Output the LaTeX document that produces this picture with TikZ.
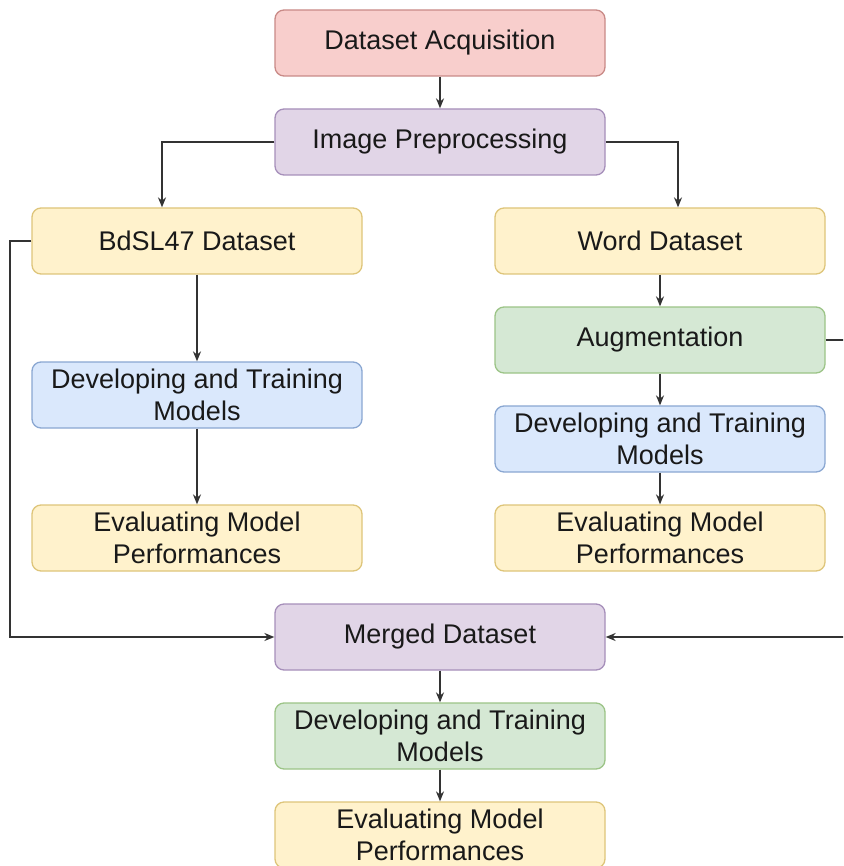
\documentclass[tikz,border=0pt]{standalone}
\usepackage{fontspec}
\setmainfont{Liberation Sans}
\usetikzlibrary{arrows.meta,calc}

\definecolor{redfill}{HTML}{F8CECC}\definecolor{redline}{HTML}{C98A87}
\definecolor{purfill}{HTML}{E1D5E7}\definecolor{purline}{HTML}{A68FBA}
\definecolor{yelfill}{HTML}{FFF2CC}\definecolor{yelline}{HTML}{DEC57A}
\definecolor{blufill}{HTML}{DAE8FC}\definecolor{bluline}{HTML}{8AA7D2}
\definecolor{grnfill}{HTML}{D5E8D4}\definecolor{grnline}{HTML}{9CC487}
\definecolor{wire}{HTML}{333333}

\tikzset{
  box/.style={draw, line width=1.3pt, rounded corners=9pt, minimum width=330pt,
    minimum height=66pt, inner sep=0pt, align=center, text=black!90,
    font=\fontsize{27}{32}\selectfont},
  redbox/.style={box, fill=redfill, draw=redline},
  purbox/.style={box, fill=purfill, draw=purline},
  yelbox/.style={box, fill=yelfill, draw=yelline},
  blubox/.style={box, fill=blufill, draw=bluline},
  grnbox/.style={box, fill=grnfill, draw=grnline},
  arr/.style={draw=wire, line width=1.3pt, -{Stealth[length=10pt,width=8pt]}},
}

\begin{document}
\begin{tikzpicture}[x=1pt,y=-1pt]
  \useasboundingbox (0,0) rectangle (843,866);
  \clip (0,0) rectangle (843,866);
  \fill[white] (0,0) rectangle (843,866);

  % top stage
  \node[redbox] (acq) at (440,43)  {Dataset Acquisition};
  \node[purbox] (pre) at (440,142) {Image Preprocessing};

  % left branch
  \node[yelbox] (bd)   at (197,241) {BdSL47 Dataset};
  \node[blubox] (ldev) at (197,395) {Developing and Training\\Models};
  \node[yelbox] (leva) at (197,538) {Evaluating Model\\Performances};

  % right branch
  \node[yelbox] (wd)   at (660,241) {Word Dataset};
  \node[grnbox] (aug)  at (660,340) {Augmentation};
  \node[blubox] (rdev) at (660,439) {Developing and Training\\Models};
  \node[yelbox] (reva) at (660,538) {Evaluating Model\\Performances};

  % merged stage
  \node[purbox] (mg)   at (440,637) {Merged Dataset};
  \node[grnbox] (mdev) at (440,736) {Developing and Training\\Models};
  \node[yelbox] (meva) at (440,835) {Evaluating Model\\Performances};

  % routing points for the side loops
  \coordinate (lx) at (10,0);
  \coordinate (rx) at (846,0);

  \draw[arr] (acq) -- (pre);
  \draw[arr] (pre.west) -| ([xshift=-35pt]bd.north);
  \draw[arr] (pre.east) -| ([xshift=18pt]wd.north);

  \draw[arr] (bd) -- (ldev);
  \draw[arr] (ldev) -- (leva);

  \draw[arr] (wd) -- (aug);
  \draw[arr] (aug) -- (rdev);
  \draw[arr] (rdev) -- (reva);

  \draw[arr] (bd.west) -- (bd.west -| lx) -- (lx |- mg.west) -- (mg.west);
  \draw[arr] (aug.east) -- (aug.east -| rx) -- (rx |- mg.east) -- (mg.east);

  \draw[arr] (mg) -- (mdev);
  \draw[arr] (mdev) -- (meva);
\end{tikzpicture}
\end{document}
